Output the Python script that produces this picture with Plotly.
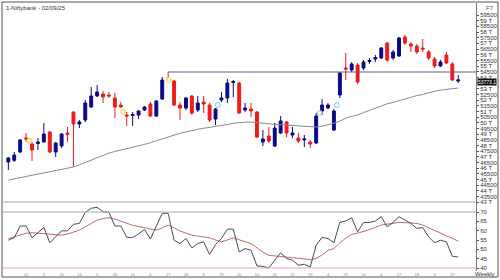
import plotly.graph_objects as go

# ---------------- data ----------------
idx = list(range(1, 78))

opens = [46549, 46700, 47430, 48664, 48135, 48179, 48311, 49192, 47430, 47959,
         49104, 50954, 49897, 50250, 51395, 52364, 52540, 52452, 52188, 51571,
         50690, 50646, 50690, 51131, 51659, 50602, 52100, 53950, 53685, 51571,
         51307, 52364, 51131, 51835, 51571, 50338, 52011, 52188, 53553, 53509,
         51131, 51219, 50954, 48311, 48840, 47959, 49104, 50073, 48928, 48664,
         48488, 48311, 48223, 51042, 51307, 49369, 52452, 54831, 54655, 55095,
         54831, 55403, 55624, 55712, 57033, 55712, 55888, 57562, 56945, 56769,
         56593, 56240, 55624, 55007, 55976, 55183, 53685]
highs = [46990, 47430, 48576, 49104, 48311, 48664, 49985, 49280, 48311, 49104,
         49633, 50998, 50250, 52011, 53157, 53333, 52804, 52716, 52628, 51835,
         50954, 50954, 51131, 51483, 51835, 52011, 54038, 54478, 53773, 51835,
         52276, 52452, 52364, 52364, 51747, 51307, 52716, 53862, 53773, 53597,
         51747, 51747, 51042, 49369, 49633, 49985, 50602, 50161, 49633, 49104,
         48928, 48488, 50866, 52100, 51747, 51219, 54478, 56152, 55359, 55271,
         55536, 55712, 55976, 56681, 57121, 56416, 57562, 57738, 57121, 56945,
         57386, 56416, 55800, 55536, 56240, 55359, 54214]
lows = [45844, 46549, 47342, 48311, 46637, 47607, 48267, 47342, 46990, 47783,
        48311, 46109, 49545, 50073, 51307, 52276, 51747, 52188, 50426, 51307,
        49721, 49721, 50338, 51042, 50514, 50514, 52011, 53597, 51483, 50250,
        51131, 50690, 50954, 50866, 50073, 49809, 51835, 51747, 52276, 50778,
        50954, 50514, 48664, 47959, 48223, 47871, 49016, 48752, 48664, 48223,
        47871, 47783, 48135, 50690, 51219, 49280, 52188, 53773, 54478, 53421,
        54655, 55183, 55359, 55624, 55359, 55536, 55800, 56857, 56240, 56064,
        56240, 55536, 54831, 54919, 55183, 53685, 53509]
closes = [46902, 47166, 48488, 48576, 47607, 48311, 49016, 47430, 48223, 49016,
          48972, 49897, 50073, 51747, 52364, 52716, 52276, 52364, 51395, 51395,
          50602, 50734, 51042, 51395, 50602, 51923, 53773, 53862, 51571, 51307,
          52188, 50866, 51747, 51659, 50250, 51219, 52188, 53509, 53641, 50866,
          51307, 51042, 48752, 48576, 48399, 49545, 50161, 49104, 49104, 48399,
          48576, 48135, 50602, 51571, 51571, 51042, 54390, 54743, 55183, 53597,
          55359, 55491, 55756, 56593, 55536, 56240, 57474, 57033, 56769, 56240,
          56505, 55712, 55007, 55359, 55271, 53773, 53773]
ma = [44960, 45070, 45180, 45290, 45400, 45500, 45600, 45700, 45800, 45900,
      46000, 46110, 46300, 46520, 46740, 46950, 47150, 47330, 47480, 47600,
      47700, 47800, 47940, 48100, 48250, 48420, 48600, 48800, 48950, 49080,
      49200, 49330, 49430, 49520, 49590, 49650, 49740, 49850, 49960, 50030,
      50060, 50070, 50040, 49980, 49920, 49870, 49830, 49800, 49780, 49740,
      49690, 49650, 49630, 49700, 49820, 49960, 50150, 50420, 50570, 50700,
      50900, 51100, 51300, 51500, 51680, 51800, 51960, 52120, 52270, 52400,
      52500, 52650, 52780, 52880, 52960, 53020, 53070]
rsi = [54.9, 56.2, 62.5, 62.5, 56.2, 58.9, 61.7, 53.5, 56.7, 59.9,
       59.9, 63.4, 63.9, 69.8, 72.0, 72.5, 70.2, 69.8, 62.5, 62.5,
       56.4, 56.4, 58.2, 60.7, 55.5, 62.5, 69.3, 69.3, 54.9, 53.1,
       55.8, 50.8, 53.1, 54.0, 47.2, 52.6, 55.8, 60.8, 60.8, 48.6,
       50.4, 49.5, 41.1, 40.9, 40.0, 44.2, 48.1, 45.1, 44.2, 41.5,
       42.0, 40.6, 52.2, 56.4, 55.8, 53.5, 64.4, 65.2, 66.9, 59.4,
       64.4, 64.4, 65.2, 67.5, 62.1, 64.4, 67.5, 65.7, 63.9, 61.2,
       61.7, 56.7, 53.5, 54.9, 54.0, 46.3, 45.9]
rsi_signal = [55.8, 56.8, 58.0, 58.6, 58.9, 58.7, 58.4, 58.0, 57.7, 57.6,
              58.2, 59.2, 60.3, 62.0, 64.0, 65.7, 66.5, 66.9, 66.2, 65.0,
              63.9, 62.9, 62.2, 61.6, 61.0, 60.3, 61.5, 63.0, 61.5, 59.8,
              58.7, 57.6, 57.1, 56.7, 56.2, 55.0, 54.0, 55.0, 56.2, 55.1,
              54.0, 53.1, 50.8, 48.5, 46.8, 46.5, 46.3, 46.1, 45.9, 45.4,
              44.9, 44.5, 45.1, 47.0, 49.5, 50.4, 53.5, 56.0, 58.0, 58.7,
              59.4, 60.5, 61.8, 63.0, 63.5, 64.0, 64.4, 64.3, 64.1, 63.9,
              63.0, 61.5, 60.0, 58.5, 57.3, 55.9, 54.4]

resistance_level = 54478
resistance_start = 28

yellow_x = [4.55, 20.4, 28.1]
yellow_y = [48425, 50980, 53773]
cyan_x = [36.4, 53.6, 56.5]
cyan_y = [51571, 50866, 51571]

x_tick_pos = [4, 7, 10, 13, 16, 19, 22, 25, 28, 31, 34, 37, 40, 43, 46, 49,
              52, 55, 58, 61, 64, 67, 70, 73, 76]
x_tick_text = ['12', '3', '24', '14', '5', '26', '16', '6', '27', '18', '8',
               '29', '20', '10', '31', '21', '13', '4', '25', '16', '6', '27',
               '18', '8', '29']

# 53500 is hidden behind the last-price box in the reference
price_ticks = [59500, 59000, 58500, 58000, 57500, 57000, 56500, 56000, 55500,
               55000, 54500, 54000, 53500, 53000, 52500, 52000, 51500, 51000,
               50500, 50000, 49500, 49000, 48500, 48000, 47500, 47000, 46500,
               46000, 45500, 45000, 44500, 44000, 43500, 43000]
price_tick_text = ['59500', '59 T', '58500', '58 T', '57500', '57 T', '56500',
                   '56 T', '55500', '55 T', '54500', '54 T', '', '53 T',
                   '52500', '52 T', '51500', '51 T', '50500', '50 T', '49500',
                   '49 T', '48500', '48 T', '47500', '47 T', '46500', '46 T',
                   '45500', '45 T', '44500', '44 T', '43500', '43 T']
rsi_ticks = [70, 65, 60, 55, 50, 45, 40]
rsi_levels = [70, 40]
last_price_text = '53773.1'

# ---------------- geometry helpers (pixel layout) ----------------
W, H = 500, 280
L, R, T, B = 3, 24, 3, 9
pw, ph = W - L - R, H - T - B
def px_x(px):
    return (px - L) / pw
def px_y(py):
    return (H - B - py) / ph
split = px_y(203)

FONT = "Liberation Sans, Arial, sans-serif"
BULL = "#0a0a86"
BEAR = "#ee1b1b"

fig = go.Figure()
fig.add_trace(go.Scatter(x=idx, y=ma, mode="lines",
                         line=dict(color="#8a8a8a", width=1), hoverinfo="skip",
                         xaxis="x", yaxis="y"))
fig.add_trace(go.Candlestick(
    x=idx, open=opens, high=highs, low=lows, close=closes,
    increasing=dict(line=dict(color=BULL, width=1), fillcolor=BULL),
    decreasing=dict(line=dict(color=BEAR, width=1), fillcolor=BEAR),
    whiskerwidth=0, xaxis="x", yaxis="y"))
fig.add_trace(go.Scatter(x=yellow_x, y=yellow_y, mode="markers",
                         marker=dict(size=5, color="#fff3a8",
                                     line=dict(color="#e8d27a", width=1)),
                         xaxis="x", yaxis="y"))
fig.add_trace(go.Scatter(x=cyan_x, y=cyan_y, mode="markers",
                         marker=dict(size=5, color="rgba(230,250,255,0.6)",
                                     line=dict(color="#7fd0e0", width=1)),
                         xaxis="x", yaxis="y"))
fig.add_trace(go.Scatter(x=idx, y=rsi_signal, mode="lines",
                         line=dict(color="#c26a6a", width=1),
                         xaxis="x2", yaxis="y2"))
fig.add_trace(go.Scatter(x=idx, y=rsi, mode="lines",
                         line=dict(color="#4a4a5a", width=1),
                         xaxis="x2", yaxis="y2"))

xr = [0.1, 80.0]
p_lo = 60821.5 - 88.1 * 203
p_hi = 60821.5 - 88.1 * 3
r_hi = 70 + (212 - 203) / 1.867
r_lo = 70 - (271 - 212) / 1.867

axis_common = dict(showgrid=False, zeroline=False, side="right",
                   ticks="outside", ticklen=2, tickcolor="#555",
                   showline=True, linecolor="#777", linewidth=1,
                   tickfont=dict(size=6, color="#333", family=FONT))

shapes = [
    dict(type="rect", xref="paper", yref="paper", x0=px_x(2), x1=px_x(498),
         y0=px_y(277), y1=px_y(2), line=dict(color="#555", width=1)),
    dict(type="line", xref="paper", yref="paper", x0=0, x1=1,
         y0=px_y(202), y1=px_y(202), line=dict(color="#a8a8a8", width=1)),
    dict(type="line", xref="x", yref="y", x0=resistance_start, x1=xr[1],
         y0=resistance_level, y1=resistance_level,
         line=dict(color="#5c5c8c", width=1)),
    dict(type="line", xref="x2", yref="y2", x0=xr[0], x1=xr[1],
         y0=rsi_levels[0], y1=rsi_levels[0], line=dict(color="#a8a8a8", width=1)),
    dict(type="line", xref="x2", yref="y2", x0=xr[0], x1=xr[1],
         y0=rsi_levels[1], y1=rsi_levels[1], line=dict(color="#e4a8a8", width=1)),
]

annotations = [
    dict(text="1-Niftybank - 02/09/25", xref="paper", yref="paper",
         x=px_x(4), y=px_y(3), xanchor="left", yanchor="top", showarrow=False,
         font=dict(size=6, color="#333", family=FONT)),
    dict(text="F7", xref="paper", yref="paper", x=px_x(496), y=px_y(3),
         xanchor="right", yanchor="top", showarrow=False,
         font=dict(size=6, color="#555", family=FONT)),
    dict(text="Weekly", xref="paper", yref="paper", x=px_x(497), y=px_y(279),
         xanchor="right", yanchor="bottom", showarrow=False,
         font=dict(size=6, color="#333", family=FONT)),
    dict(text=last_price_text, xref="paper", yref="paper", x=px_x(477),
         y=px_y(82), xanchor="left", yanchor="middle", showarrow=False,
         bgcolor="#111", borderpad=0,
         font=dict(size=5, color="#fff", family=FONT)),
]

fig.update_layout(
    width=W, height=H, margin=dict(l=L, r=R, t=T, b=B),
    paper_bgcolor="white", plot_bgcolor="white", showlegend=False,
    xaxis=dict(domain=[0, 1], anchor="y", range=xr, showticklabels=False,
               showgrid=False, zeroline=False, ticks="",
               rangeslider=dict(visible=False)),
    xaxis2=dict(domain=[0, 1], anchor="y2", range=xr, matches="x",
                showgrid=False, zeroline=False, ticks="",
                tickvals=x_tick_pos, ticktext=x_tick_text,
                tickfont=dict(size=4, color="#888", family=FONT)),
    yaxis=dict(domain=[split, 1], range=[p_lo, p_hi],
               tickvals=price_ticks, ticktext=price_tick_text, **axis_common),
    yaxis2=dict(domain=[0, split], range=[r_lo, r_hi],
                tickvals=rsi_ticks, **axis_common),
    shapes=shapes, annotations=annotations,
)

fig.write_html("out.html")
